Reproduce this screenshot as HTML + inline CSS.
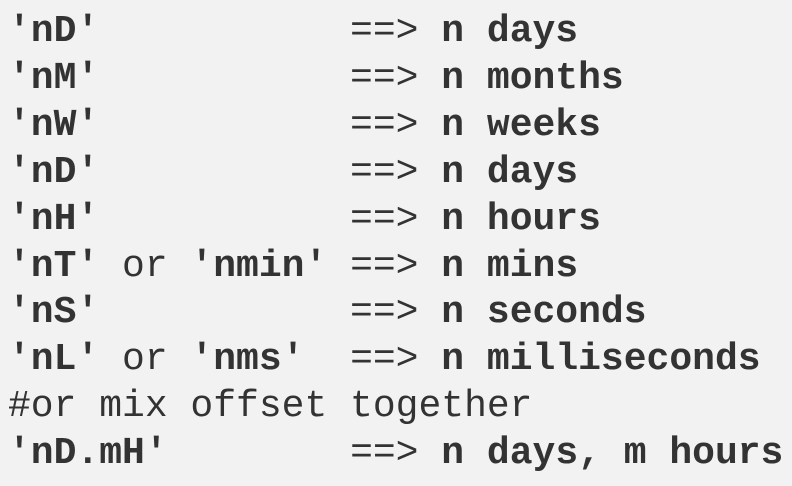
<!DOCTYPE html>
<html><head><style>
html,body{margin:0;padding:0;background:#f2f2f2;}
body{width:792px;height:486px;overflow:hidden;}
pre{margin:0;padding:9px 0 0 8px;font-family:"Liberation Mono","Courier New",monospace;font-size:38px;line-height:46.9px;color:#333;}
b{font-weight:bold;}
</style></head><body><pre><b>'nD'</b>           ==&gt; <b>n days</b>
<b>'nM'</b>           ==&gt; <b>n months</b>
<b>'nW'</b>           ==&gt; <b>n weeks</b>
<b>'nD'</b>           ==&gt; <b>n days</b>
<b>'nH'</b>           ==&gt; <b>n hours</b>
<b>'nT'</b> or <b>'nmin'</b> ==&gt; <b>n mins</b>
<b>'nS'</b>           ==&gt; <b>n seconds</b>
<b>'nL'</b> or <b>'nms'</b>  ==&gt; <b>n milliseconds</b>
#or mix offset together
<b>'nD.mH'</b>        ==&gt; <b>n days, m hours</b></pre></body></html>
